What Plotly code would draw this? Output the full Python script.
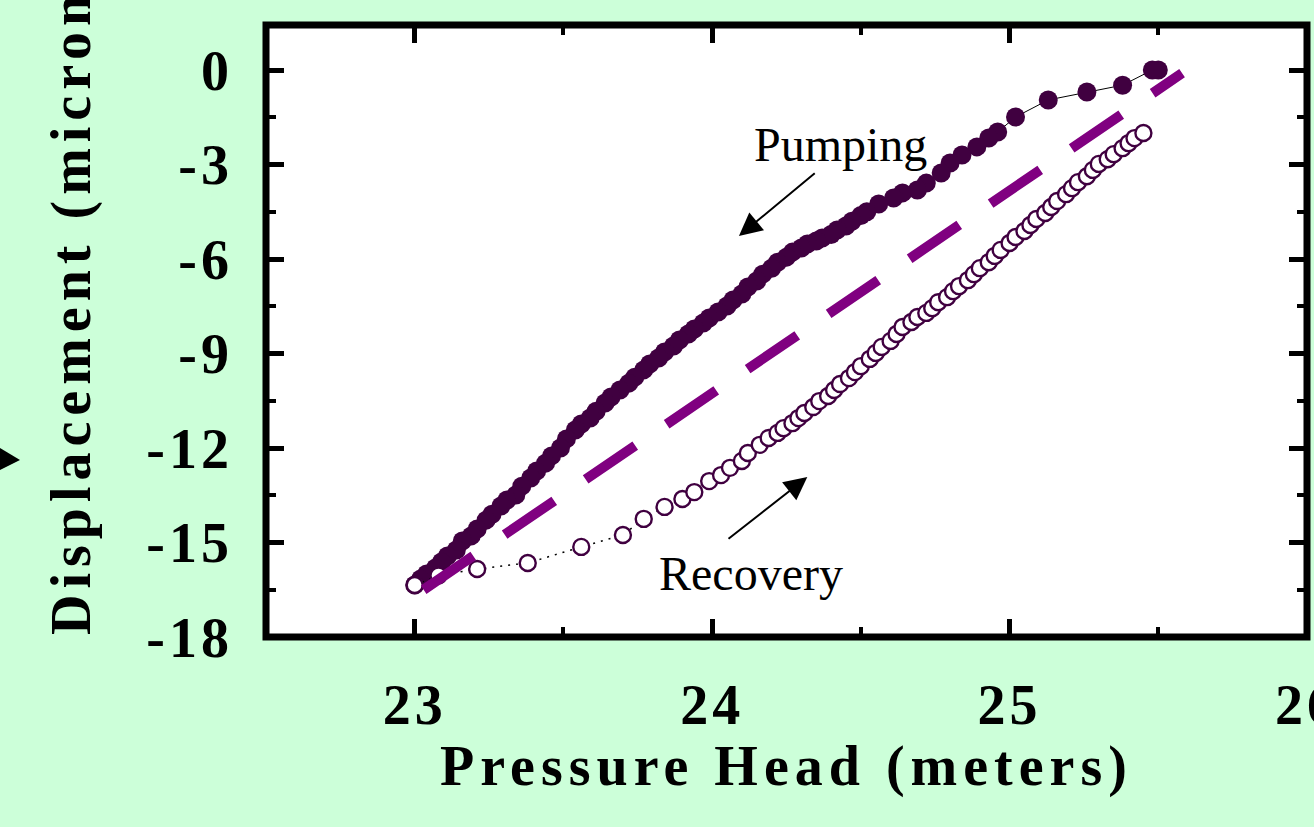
import plotly.graph_objects as go

# Pumping phase (filled markers): pressure head (m) vs displacement (microns)
pump_x = [25.50, 25.48, 25.38, 25.26, 25.13, 25.02, 24.96, 24.93, 24.89, 24.84,
          24.80, 24.77, 24.72, 24.69, 24.64, 24.61, 24.56, 24.52, 24.50, 24.47,
          24.45, 24.42, 24.40, 24.37, 24.35, 24.32, 24.30, 24.27, 24.25, 24.22,
          24.20, 24.17, 24.15, 24.12, 24.10, 24.07, 24.05, 24.02, 23.99, 23.97,
          23.94, 23.92, 23.89, 23.87, 23.84, 23.82, 23.79, 23.77, 23.74, 23.72,
          23.69, 23.66, 23.64, 23.61, 23.59, 23.56, 23.54, 23.51, 23.49, 23.46,
          23.44, 23.41, 23.39, 23.36, 23.34, 23.31, 23.29, 23.26, 23.24, 23.21,
          23.19, 23.16, 23.14, 23.11, 23.09, 23.07, 23.04, 23.02, 23.00]
pump_y = [0.00, 0.00, -0.48, -0.70, -0.95, -1.49, -1.97, -2.16, -2.44, -2.70,
          -2.95, -3.27, -3.59, -3.81, -3.90, -4.06, -4.25, -4.50, -4.62, -4.80,
          -4.95, -5.08, -5.22, -5.33, -5.43, -5.52, -5.65, -5.78, -5.94, -6.10,
          -6.29, -6.48, -6.70, -6.89, -7.11, -7.30, -7.49, -7.68, -7.87, -8.03,
          -8.22, -8.38, -8.57, -8.76, -8.95, -9.14, -9.33, -9.52, -9.75, -9.94,
          -10.16, -10.38, -10.57, -10.83, -11.05, -11.24, -11.43, -11.71, -12.00, -12.25,
          -12.48, -12.73, -12.95, -13.21, -13.49, -13.65, -13.84, -14.10, -14.29, -14.57,
          -14.79, -14.95, -15.24, -15.43, -15.62, -15.81, -16.00, -16.16, -16.35]

# Recovery phase (open markers)
rec_x = [23.00, 23.08, 23.21, 23.38, 23.56, 23.70, 23.77, 23.84, 23.90, 23.94,
         23.99, 24.03, 24.06, 24.10, 24.12, 24.16, 24.19, 24.22, 24.24, 24.27,
         24.29, 24.31, 24.34, 24.36, 24.39, 24.41, 24.43, 24.46, 24.48, 24.50,
         24.53, 24.55, 24.57, 24.60, 24.62, 24.64, 24.67, 24.69, 24.72, 24.74,
         24.76, 24.79, 24.81, 24.83, 24.86, 24.88, 24.90, 24.93, 24.95, 24.97,
         25.00, 25.02, 25.05, 25.07, 25.09, 25.12, 25.14, 25.16, 25.19, 25.21,
         25.23, 25.26, 25.28, 25.30, 25.33, 25.35, 25.38, 25.40, 25.42, 25.45]
rec_y = [-16.35, -16.05, -15.84, -15.65, -15.14, -14.76, -14.25, -13.87, -13.62, -13.40,
         -13.05, -12.86, -12.63, -12.41, -12.16, -11.90, -11.68, -11.52, -11.37, -11.21,
         -11.05, -10.89, -10.70, -10.51, -10.35, -10.16, -9.97, -9.78, -9.59, -9.40,
         -9.17, -8.98, -8.79, -8.60, -8.38, -8.16, -8.00, -7.84, -7.71, -7.56,
         -7.37, -7.21, -7.02, -6.86, -6.67, -6.48, -6.29, -6.10, -5.90, -5.71,
         -5.49, -5.30, -5.11, -4.92, -4.73, -4.54, -4.35, -4.16, -3.94, -3.75,
         -3.56, -3.37, -3.17, -2.98, -2.83, -2.67, -2.48, -2.32, -2.16, -2.00]

# Straight reference line through the loop
fit_x = [23.03, 25.58]
fit_y = [-16.50, -0.10]

x_tick_vals = [23, 24, 25, 26]
x_tick_text = ["23", "24", "25", "26"]
y_tick_vals = [0, -3, -6, -9, -12, -15, -18]
y_tick_text = ["0", "-3", "-6", "-9", "-12", "-15", "-18"]

SERIF = "Liberation Serif, Times New Roman, serif"
DARK = "#400040"
FIT = "#800080"
PAPER = "#ccffd9"

fig = go.Figure()
fig.add_trace(go.Scatter(
    x=pump_x, y=pump_y, mode="lines+markers", name="Pumping",
    line=dict(color="black", width=1),
    marker=dict(size=19, color=DARK, line=dict(width=0)),
))
fig.add_trace(go.Scatter(
    x=rec_x, y=rec_y, mode="lines+markers", name="Recovery",
    line=dict(color="black", width=1.5, dash="2px,6px"),
    marker=dict(size=16, color="white", line=dict(color=DARK, width=2.4)),
))
fig.add_trace(go.Scatter(
    x=fit_x, y=fit_y, mode="lines", name="Linear",
    line=dict(color=FIT, width=10, dash="60px,38px"),
))

axis_common = dict(
    ticks="inside", ticklen=18, tickwidth=5, tickcolor="black",
    showline=False, mirror="ticks",
    showgrid=False, zeroline=False,
    automargin=False,
    ticklabeloverflow="allow",
    tickfont=dict(family=SERIF, size=56, color="black", weight="bold"),
)

fig.update_xaxes(
    range=[22.5, 26], tickmode="array", tickvals=x_tick_vals, ticktext=x_tick_text,
    ticklabelstandoff=30,
    minor=dict(tick0=22.5, dtick=0.5, ticks="inside", ticklen=10, tickwidth=4,
               tickcolor="black", showgrid=False),
    **axis_common,
)
fig.update_yaxes(
    range=[-18, 1.43], tickmode="array", tickvals=y_tick_vals, ticktext=y_tick_text,
    ticklabelstandoff=32,
    minor=dict(tick0=0, dtick=1.5, ticks="inside", ticklen=10, tickwidth=4,
               tickcolor="black", showgrid=False),
    **axis_common,
)

title_font = dict(family=SERIF, size=56, color="black", weight="bold")
label_font = dict(family=SERIF, size=48, color="black")

annotations = [
    dict(text="Pressure Head (meters)", xref="paper", yref="paper", x=0.5, y=-0.211,
         xanchor="center", yanchor="middle", showarrow=False, font=title_font),
    dict(text="Displacement (microns)", xref="paper", yref="paper", x=-0.1874, y=0.575,
         xanchor="center", yanchor="middle", textangle=-90, showarrow=False, font=title_font),
    dict(text="Pumping", xref="x", yref="y", x=24.43, y=-2.35, showarrow=False, font=label_font),
    dict(text="Recovery", xref="x", yref="y", x=24.13, y=-15.97, showarrow=False, font=label_font),
    dict(text="", xref="x", yref="y", x=24.09, y=-5.27, ax=24.35, ay=-3.24,
         axref="x", ayref="y", showarrow=True, arrowhead=2, arrowsize=2.3,
         arrowwidth=2, arrowcolor="black", standoff=0),
    dict(text="", xref="x", yref="y", x=24.32, y=-12.92, ax=24.05, ay=-14.92,
         axref="x", ayref="y", showarrow=True, arrowhead=2, arrowsize=2.3,
         arrowwidth=2, arrowcolor="black", standoff=0),
]

fig.update_layout(
    width=1314, height=827,
    margin=dict(l=266, r=7, t=25, b=190, autoexpand=False),
    paper_bgcolor=PAPER, plot_bgcolor="white",
    showlegend=False,
    font=dict(family=SERIF, color="black"),
    annotations=annotations,
    shapes=[
        # heavy frame centred on the plot-area edges
        dict(type="rect", xref="paper", yref="paper", x0=0, x1=1, y0=0, y1=1,
             line=dict(color="black", width=7), fillcolor="rgba(0,0,0,0)", layer="above"),
        # small pointer at the far left
        dict(type="path", xref="paper", yref="paper",
             path="M -0.2651,0.3186 L -0.2363,0.2892 L -0.2651,0.2647 Z",
             fillcolor="black", line=dict(width=0)),
    ],
)

# Widen the letter spacing of the axis texts
SPACING_JS = """
var gd = document.getElementById('{plot_id}');
gd.querySelectorAll('.xtick text, .ytick text').forEach(function (t) { t.style.letterSpacing = '4px'; });
gd.querySelectorAll('.annotation-text').forEach(function (t) {
  var s = t.textContent;
  if (s.indexOf('Pressure') === 0 || s.indexOf('Displacement') === 0) { t.style.letterSpacing = '6px'; }
});
"""

fig.write_html("out.html", post_script=SPACING_JS)
